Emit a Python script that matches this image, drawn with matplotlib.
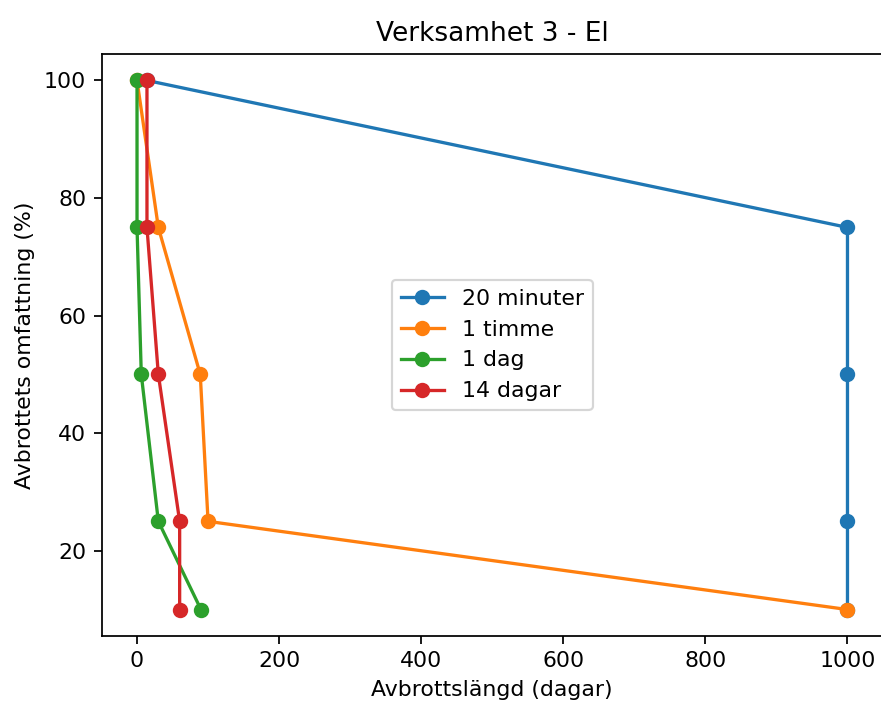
import matplotlib
matplotlib.use('Agg')
import matplotlib.pyplot as plt

# === Data ===
omfattning = [100, 75, 50, 25, 10]   # Avbrottets omfattning (%)
serier = ['20 minuter', '1 timme', '1 dag', '14 dagar']
langd_20min = [14, 1000, 1000, 1000, 1000]
langd_1timme = [0, 30, 89, 100, 1000]
langd_1dag = [0, 0, 6, 30, 90]
langd_14dagar = [14, 14, 30, 60, 60]

dpi = 158
fig = plt.figure(figsize=(881 / dpi, 702 / dpi), dpi=dpi)
ax = fig.add_axes([101.5 / 881, 1 - 636 / 702, (883 - 101.5) / 881, (636 - 54) / 702])

for namn, langd in zip(serier, [langd_20min, langd_1timme, langd_1dag, langd_14dagar]):
    ax.plot(langd, omfattning, marker='o', label=namn)

ax.set_xlabel('Avbrottslängd (dagar)')
ax.set_ylabel('Avbrottets omfattning (%)')
ax.set_title('Verksamhet 3 - El')
ax.legend(loc='center')

fig.savefig('out.png', dpi=dpi)
